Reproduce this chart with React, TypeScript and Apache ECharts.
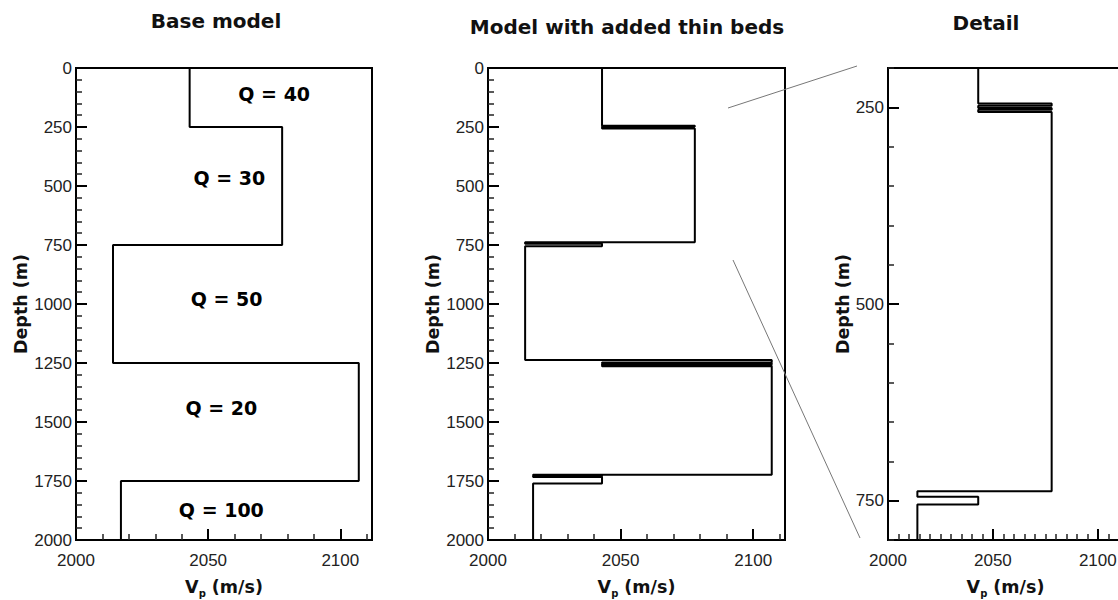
import React, { useEffect, useRef } from 'react';
import * as echarts from 'echarts';

// Base model: layer tops (m) and P velocities (m/s)
const baseTops = [0, 250, 750, 1250, 1750];
const baseVel = [2043, 2078, 2014, 2107, 2017];
// Model with added thin beds
const thinTops = [0, 245, 248, 251, 253, 256, 738, 745, 755, 1237, 1248, 1251, 1254, 1257, 1260, 1264, 1724, 1727, 1730, 1733, 1761];
const thinVel = [2043, 2078, 2043, 2078, 2043, 2078, 2014, 2043, 2014, 2107, 2043, 2107, 2043, 2107, 2043, 2107, 2017, 2043, 2017, 2043, 2017];
const maxDepth = 2000;

// Q annotations (base model)
const qText = ['Q = 40', 'Q = 30', 'Q = 50', 'Q = 20', 'Q = 100'];
const qVel = [2075, 2058, 2057, 2055, 2055];
const qDepth = [110, 466, 979, 1441, 1873];

const titles = ['Base model', 'Model with added thin beds', 'Detail'];
const detailDepthTicks = [250, 500, 750];
const velMinorTicks = [2010, 2020, 2030, 2040, 2060, 2070, 2080, 2090, 2110];
const detailVelMinorTicks = [2005, 2010, 2015, 2020, 2025, 2030, 2035, 2040, 2045, 2055, 2060, 2065, 2070, 2075, 2080, 2085, 2090, 2095, 2105, 2110];

const BOLD = 'DejaVu Sans';
const REG = 'Liberation Sans';
const plain = (v: number) => String(v);

function steps(tops: number[], vel: number[], bottom: number) {
  const pts: number[][] = [];
  for (let i = 0; i < tops.length; i++) {
    const b = i < tops.length - 1 ? tops[i + 1] : bottom;
    pts.push([vel[i], tops[i]], [vel[i], b]);
  }
  return pts;
}

const vpName = '{v|V}{s|p}{v| (m/s)}';
const vpStyle = {
  rich: {
    v: { fontFamily: BOLD, fontWeight: 'bold', fontSize: 17.5, color: '#111', lineHeight: 22 },
    s: { fontFamily: BOLD, fontWeight: 'bold', fontSize: 10, color: '#111', lineHeight: 12, verticalAlign: 'bottom' },
  },
};

function xMajor(grid: number) {
  return {
    type: 'value', gridIndex: grid, position: 'bottom', min: 2000, max: 2112, interval: 50,
    axisLine: { show: true, onZero: false, lineStyle: { color: '#000', width: 2 } },
    axisTick: { show: true, inside: true, length: 11, lineStyle: { color: '#000', width: 2 } },
    axisLabel: { margin: 12, fontFamily: REG, fontSize: 17, color: '#222', showMaxLabel: false, formatter: plain },
    splitLine: { show: false },
    name: vpName, nameLocation: 'middle', nameGap: 36, nameTextStyle: vpStyle,
  };
}
function xMinor(grid: number, ticks: number[]) {
  return {
    type: 'value', gridIndex: grid, position: 'bottom', min: 2000, max: 2112,
    axisLine: { show: false, onZero: false },
    axisTick: { show: true, inside: true, length: 6, customValues: ticks, lineStyle: { color: '#222', width: 1.5 } },
    axisLabel: { show: false },
    splitLine: { show: false },
  };
}
function yFull(grid: number, gap: number) {
  return {
    type: 'value', gridIndex: grid, position: 'left', inverse: true, min: 0, max: maxDepth, interval: 250,
    axisLine: { show: true, onZero: false, lineStyle: { color: '#000', width: 2 } },
    axisTick: { show: true, inside: true, length: 11, lineStyle: { color: '#000', width: 2 } },
    minorTick: { show: true, splitNumber: 5, length: 6, lineStyle: { color: '#222', width: 1.5 } },
    axisLabel: { margin: 4, fontFamily: REG, fontSize: 17, color: '#222', formatter: plain },
    splitLine: { show: false },
    name: 'Depth (m)', nameLocation: 'middle', nameGap: gap,
    nameTextStyle: { fontFamily: BOLD, fontWeight: 'bold', fontSize: 17.5, color: '#111' },
  };
}

const gridBase = { show: true, borderColor: '#000', borderWidth: 2, backgroundColor: 'transparent', containLabel: false, outerBoundsMode: 'none' };

export default function App() {
  const ref = useRef<HTMLDivElement>(null);
  useEffect(() => {
    if (!ref.current) return;
    const chart = echarts.init(ref.current, null, { renderer: 'svg' });
    const lineStyle = { color: '#000', width: 2 };
    const option: any = {
      animation: false,
      backgroundColor: '#fff',
      grid: [
        { ...gridBase, left: 76, top: 68, width: 296, height: 472 },
        { ...gridBase, left: 488, top: 68, width: 297, height: 472 },
        { ...gridBase, left: 888, top: 68, width: 235, height: 472 },
      ],
      xAxis: [
        xMajor(0), xMinor(0, velMinorTicks),
        xMajor(1), xMinor(1, velMinorTicks),
        xMajor(2), xMinor(2, detailVelMinorTicks),
      ],
      yAxis: [
        yFull(0, 43),
        yFull(1, 40),
        {
          type: 'value', gridIndex: 2, position: 'left', inverse: true, min: 200, max: 800, interval: 50,
          axisLine: { show: true, onZero: false, lineStyle: { color: '#000', width: 2 } },
          axisTick: { show: true, inside: true, length: 6, lineStyle: { color: '#222', width: 1.5 } },
          axisLabel: { show: false },
          splitLine: { show: false },
        },
        {
          type: 'value', gridIndex: 2, position: 'left', inverse: true, min: 200, max: 800,
          axisLine: { show: false, onZero: false },
          axisTick: { show: true, inside: true, length: 11, customValues: detailDepthTicks, lineStyle: { color: '#000', width: 2 } },
          axisLabel: { margin: 4, fontFamily: REG, fontSize: 17, color: '#222', customValues: detailDepthTicks, formatter: plain },
          splitLine: { show: false },
          name: 'Depth (m)', nameLocation: 'middle', nameGap: 31,
          nameTextStyle: { fontFamily: BOLD, fontWeight: 'bold', fontSize: 17.5, color: '#111' },
        },
      ],
      series: [
        { type: 'line', xAxisIndex: 0, yAxisIndex: 0, data: steps(baseTops, baseVel, maxDepth), showSymbol: false, symbol: 'none', lineStyle },
        { type: 'line', xAxisIndex: 2, yAxisIndex: 1, data: steps(thinTops, thinVel, maxDepth), showSymbol: false, symbol: 'none', lineStyle },
        { type: 'line', xAxisIndex: 4, yAxisIndex: 2, data: steps(thinTops, thinVel, maxDepth), showSymbol: false, symbol: 'none', lineStyle },
        {
          type: 'scatter', xAxisIndex: 0, yAxisIndex: 0, symbolSize: 0, silent: true,
          itemStyle: { color: 'transparent', opacity: 1 },
          data: qText.map((t, i) => ({ name: t, value: [qVel[i], qDepth[i]] })),
          label: { show: true, position: 'inside', formatter: '{b}', fontFamily: BOLD, fontWeight: 'bold', fontSize: 19, color: '#000', opacity: 1, textBorderWidth: 0 },
        },
      ],
      graphic: [
        { type: 'text', x: 216, y: 21, style: { text: titles[0], align: 'center', verticalAlign: 'middle', fontFamily: BOLD, fontWeight: 'bold', fontSize: 20, fill: '#111' } },
        { type: 'text', x: 627, y: 27, style: { text: titles[1], align: 'center', verticalAlign: 'middle', fontFamily: BOLD, fontWeight: 'bold', fontSize: 20, fill: '#111' } },
        { type: 'text', x: 986, y: 23, style: { text: titles[2], align: 'center', verticalAlign: 'middle', fontFamily: BOLD, fontWeight: 'bold', fontSize: 20, fill: '#111' } },
        { type: 'line', shape: { x1: 728, y1: 108, x2: 857, y2: 66 }, style: { stroke: '#777', lineWidth: 1 } },
        { type: 'line', shape: { x1: 733, y1: 260, x2: 860, y2: 538 }, style: { stroke: '#777', lineWidth: 1 } },
      ],
    };
    chart.setOption(option);
    return () => chart.dispose();
  }, []);
  return <div ref={ref} style={{ position: 'absolute', left: 0, top: 0, width: 1118, height: 600, background: '#fff' }} />;
}
